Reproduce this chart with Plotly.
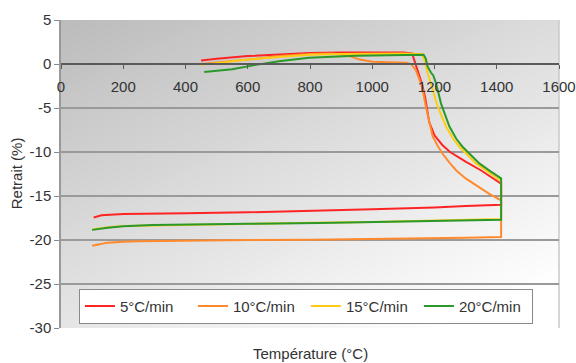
import plotly.graph_objects as go

# ---------------- data ----------------
series_names = ["5°C/min", "10°C/min", "15°C/min", "20°C/min"]
series_colors = ["#ff2424", "#ff8a2e", "#ffcc14", "#2a982a"]

# 5°C/min
red_heat_T = [450, 500, 600, 700, 800, 900, 1000, 1100, 1128, 1140, 1150, 1160, 1170, 1183,
              1200, 1225, 1250, 1300, 1350, 1414]
red_heat_R = [0.4, 0.6, 0.9, 1.1, 1.25, 1.3, 1.3, 1.3, 1.2, 0.0, -1.2, -2.3, -3.8, -6.6,
              -8.1, -9.2, -10.0, -11.1, -12.1, -13.6]
red_cool_T = [1414, 1300, 1200, 1000, 800, 600, 400, 200, 130, 115, 105]
red_cool_R = [-16.0, -16.15, -16.3, -16.5, -16.7, -16.85, -16.95, -17.05, -17.2, -17.35, -17.45]

# 10°C/min
orange_heat_T = [450, 500, 600, 700, 800, 870, 920, 960, 1000, 1050, 1110, 1125, 1140, 1150,
                 1160, 1172, 1183, 1194, 1210, 1226, 1250, 1270, 1300, 1325, 1350, 1376, 1414]
orange_heat_R = [0.0, 0.15, 0.5, 0.9, 1.15, 1.2, 1.0, 0.5, 0.25, 0.2, 0.15, 0.0, -0.7, -1.6,
                 -2.6, -4.8, -6.7, -8.2, -9.3, -10.2, -11.3, -12.1, -13.0, -13.6, -14.2, -14.75, -15.5]
orange_cool_T = [1414, 1300, 1200, 1000, 800, 600, 400, 250, 200, 150, 120, 100]
orange_cool_R = [-19.65, -19.75, -19.8, -19.9, -19.97, -20.0, -20.05, -20.15, -20.2, -20.3, -20.5, -20.65]

# 15°C/min
yellow_heat_T = [450, 500, 600, 700, 800, 900, 1000, 1100, 1160, 1170, 1178, 1194, 1210, 1237,
                 1260, 1280, 1310, 1333, 1370, 1398, 1414]
yellow_heat_R = [-0.1, 0.1, 0.5, 0.8, 1.05, 1.15, 1.2, 1.2, 1.15, 0.2, -1.0, -2.9, -4.8, -7.1,
                 -8.5, -9.4, -10.5, -11.3, -12.2, -12.85, -13.3]
yellow_cool_T = [1414, 1200, 1000, 800, 600, 400, 300, 200, 150, 100]
yellow_cool_R = [-17.6, -17.8, -17.95, -18.05, -18.15, -18.25, -18.3, -18.4, -18.55, -18.8]

# 20°C/min
green_heat_T = [460, 500, 550, 626, 700, 797, 900, 947, 1050, 1120, 1165, 1172, 1178, 1189,
                1196, 1205, 1221, 1248, 1270, 1290, 1320, 1344, 1380, 1408, 1414]
green_heat_R = [-0.9, -0.8, -0.6, -0.1, 0.3, 0.7, 0.9, 0.95, 1.0, 1.06, 1.05, 0.6, -0.3, -1.0,
                -1.3, -2.2, -4.5, -7.1, -8.5, -9.4, -10.5, -11.3, -12.2, -12.85, -13.0]
green_cool_T = [1414, 1200, 1000, 830, 600, 400, 294, 200, 150, 100]
green_cool_R = [-17.7, -17.85, -18.0, -18.06, -18.15, -18.25, -18.3, -18.45, -18.6, -18.85]

x_ticks = [0, 200, 400, 600, 800, 1000, 1200, 1400, 1600]
y_ticks = [-30, -25, -20, -15, -10, -5, 0, 5]

x_title = "Température (°C)"
y_title = "Retrait (%)"

# ---------------- figure ----------------
FONT = "Liberation Sans, Arial, sans-serif"
TXT = "#333333"

series_T = [red_heat_T + red_cool_T, orange_heat_T + orange_cool_T,
            yellow_heat_T + yellow_cool_T, green_heat_T + green_cool_T]
series_R = [red_heat_R + red_cool_R, orange_heat_R + orange_cool_R,
            yellow_heat_R + yellow_cool_R, green_heat_R + green_cool_R]

fig = go.Figure()
for name, col, T, R in zip(series_names, series_colors, series_T, series_R):
    fig.add_trace(go.Scatter(x=T, y=R, mode="lines", name=name,
                             line=dict(color=col, width=2)))

# diagonal grey gradient background (Excel style), built from stacked bands
def clip_halfplane(a, b, v):
    poly = [(0, 0), (1, 0), (1, 1), (0, 1)]
    out = []
    n = len(poly)
    for i in range(n):
        p, q = poly[i], poly[(i + 1) % n]
        fp = a * p[0] + b * p[1] - v
        fq = a * q[0] + b * q[1] - v
        if fp >= 0:
            out.append(p)
        if (fp >= 0) != (fq >= 0):
            t = fp / (fp - fq)
            out.append((p[0] + t * (q[0] - p[0]), p[1] + t * (q[1] - p[1])))
    return out

c0, ga, gb = 188.0, 32.0, 42.0
shapes = []
nb = 70
for j in range(1, nb + 1):
    v = j * (ga + gb) / nb
    c = min(255, int(round(c0 + v)))
    pts = clip_halfplane(ga, gb, v)
    if len(pts) < 3:
        break
    path = "M " + " L ".join(f"{x:.4f},{1 - s:.4f}" for x, s in pts) + " Z"
    shapes.append(dict(type="path", path=path, xref="paper", yref="paper",
                       fillcolor=f"rgb({c},{c},{c})", line=dict(width=0), layer="below"))
    if c >= 255:
        break

# right border of plot area
shapes.append(dict(type="line", xref="paper", yref="paper", x0=1, x1=1, y0=0, y1=1,
                   line=dict(color="#c8c8c8", width=1.5), layer="below"))

fig.update_layout(
    width=576, height=363,
    margin=dict(l=61, r=17, t=20, b=35, autoexpand=False),
    paper_bgcolor="white",
    plot_bgcolor="#bcbcbc",
    font=dict(family=FONT, size=15, color=TXT),
    shapes=shapes,
    showlegend=True,
    legend=dict(orientation="h", x=0.036, y=0.014, xanchor="left", yanchor="bottom",
                bgcolor="white", bordercolor="#8a8a8a", borderwidth=1,
                font=dict(family=FONT, size=15, color=TXT),
                entrywidth=68, entrywidthmode="pixels", itemwidth=30,
                tracegroupgap=0),
    xaxis=dict(range=[0, 1600], tickvals=x_ticks, ticktext=[str(v) for v in x_ticks],
               anchor="free", position=30 / 35, showline=True, linecolor="#5a5a5a",
               linewidth=1.5, ticks="outside", ticklen=4, tickcolor="#5a5a5a",
               showgrid=False, zeroline=False, ticklabelstandoff=5, automargin=False,
               tickfont=dict(family=FONT, size=15, color=TXT)),
    yaxis=dict(range=[-30, 5], tickvals=y_ticks, ticktext=[str(v) for v in y_ticks],
               showgrid=True, gridcolor="#9a9a9a", gridwidth=2, showline=True,
               linecolor="#999999", linewidth=1.5, ticks="outside", ticklen=5,
               tickcolor="#888888", zeroline=False, automargin=False,
               tickfont=dict(family=FONT, size=15, color=TXT)),
    annotations=[
        dict(text=x_title, xref="paper", yref="paper", x=0.5, y=-0.084,
             xanchor="center", yanchor="middle", showarrow=False,
             font=dict(family=FONT, size=15, color=TXT)),
        dict(text=y_title, xref="paper", yref="paper", x=-0.09, y=0.503,
             xanchor="center", yanchor="middle", showarrow=False, textangle=-90,
             font=dict(family=FONT, size=15, color=TXT)),
    ],
)

fig.write_html("out.html", config={"displayModeBar": False},
               post_script="document.body.style.margin='0';document.body.style.overflow='hidden';")
